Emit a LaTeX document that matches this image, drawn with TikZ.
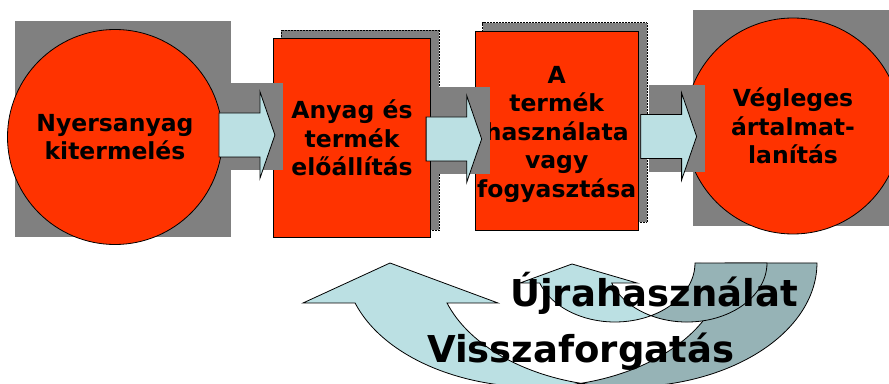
\documentclass[tikz,border=0pt]{standalone}
\usepackage{fontspec}
\setmainfont{DejaVu Sans}
\usetikzlibrary{calc,positioning,backgrounds}

\definecolor{stagered}{HTML}{FF3300}
\definecolor{shadowgray}{HTML}{808080}
\definecolor{flowblue}{HTML}{BBE0E3}
\definecolor{flowdark}{HTML}{96B3B6}

\tikzset{
  stage/.style={fill=stagered, draw=black, line width=0.8pt, align=center, inner sep=0pt,
    font=\fontsize{23.5}{28.5}\selectfont\bfseries},
  stagebox/.style={stage, rectangle, minimum width=157.4pt, minimum height=199.4pt},
  stagecirc/.style={stage, circle, minimum size=#1},
  flowarrow/.style={fill=flowblue, draw=black, line width=0.8pt,
    to path={let \p1=(\tikztostart), \p2=(\tikztotarget) in
      (\x1,\y1-22) -- (\x2-15,\y1-22) -- (\x2-15,\y1-43.5) -- (\x2,\y1)
      -- (\x2-15,\y1+43.5) -- (\x2-15,\y1+22) -- (\x1,\y1+22) -- cycle}},
  flowshadow/.style={fill=shadowgray,
    to path={let \p1=(\tikztostart), \p2=(\tikztotarget) in
      (\x1+8,\y1-35.5) rectangle (\x2+8,\y1+51.5)}},
  loopedge/.style={draw=black, line width=0.8pt},
  looptext/.style={font=\fontsize{37}{44}\selectfont\bfseries, inner sep=0pt, anchor=base west}
}

\begin{document}
\begin{tikzpicture}[x=1pt, y=1pt]
  \useasboundingbox (0,0) rectangle (889,383);
  \clip (0,0) rectangle (889,383);

  \node[stagecirc=215pt] (mining) at (115,246) {Nyersanyag\\kitermelés};
  \node[stagebox] (making) at (352,245) {Anyag és\\termék\\előállítás};
  \node[stagebox, minimum width=163.3pt, minimum height=199pt] (using) at (556.7,252.5)
    {\rule{0pt}{25pt}A\\termék\\használata\\vagy\\fogyasztása};
  \node[stagecirc=216pt] (disposal) at (793,257) {Végleges\\ártalmat-\\lanítás};

  \begin{scope}[on background layer]
    \fill[shadowgray] ($(mining.west|-mining.south)+(8,8)$) rectangle ($(mining.east|-mining.north)+(8,8)$);
    \draw[fill=shadowgray, densely dotted, line width=0.5pt] ($(making.south west)+(8,8)$) rectangle ($(making.north east)+(8,8)$);
    \draw[fill=shadowgray, densely dotted, line width=0.5pt] ($(using.south west)+(8,8)$) rectangle ($(using.north east)+(8,8)$);
    \fill[shadowgray] ($(disposal.west|-disposal.south)+(8,8)$) rectangle ($(disposal.east|-disposal.north)+(8,8)$);
  \end{scope}

  \path[flowshadow] ([shift={(-4,2)}]mining.east) to ([xshift=2]making.west);
  \path[flowarrow] ([shift={(-4,2)}]mining.east) to ([xshift=2]making.west);
  \path[flowshadow] ([shift={(-5,-1)}]making.east) to ([xshift=7]using.west);
  \path[flowarrow] ([shift={(-5,-1)}]making.east) to ([xshift=7]using.west);
  \path[flowshadow] ([shift={(2,-6)}]using.east) to ([xshift=12]disposal.west);
  \path[flowarrow] ([shift={(2,-6)}]using.east) to ([xshift=12]disposal.west);

  \fill[flowdark, loopedge] (581,-0.3) arc[start angle=256, end angle=360, x radius=190, y radius=124]
    -- (725,120) arc[start angle=360, end angle=284, x radius=190, y radius=124] -- cycle;
  \fill[flowblue, loopedge] (355.1,80) arc[start angle=198.82, end angle=284, x radius=190, y radius=124]
    arc[start angle=256, end angle=198.82, x radius=190, y radius=124]
    -- (498,80) -- (390,120) -- (303,80) -- cycle;
  \fill[flowdark, loopedge] (651,67.3) arc[start angle=243.26, end angle=360, x radius=80, y radius=59]
    -- (695,120) arc[start angle=360, end angle=296.74, x radius=80, y radius=59] -- cycle;
  \fill[flowblue, loopedge] (539.7,100) arc[start angle=199.82, end angle=296.74, x radius=80, y radius=59]
    arc[start angle=243.26, end angle=199.82, x radius=80, y radius=59]
    -- (637,100) -- (572,119) -- (520,100) -- cycle;

  \node[looptext] (reuse) at (510,76.3) {Újrahasználat};
  \node[looptext] (recycle) at (427,20.3) {Visszaforgatás};
\end{tikzpicture}
\end{document}
